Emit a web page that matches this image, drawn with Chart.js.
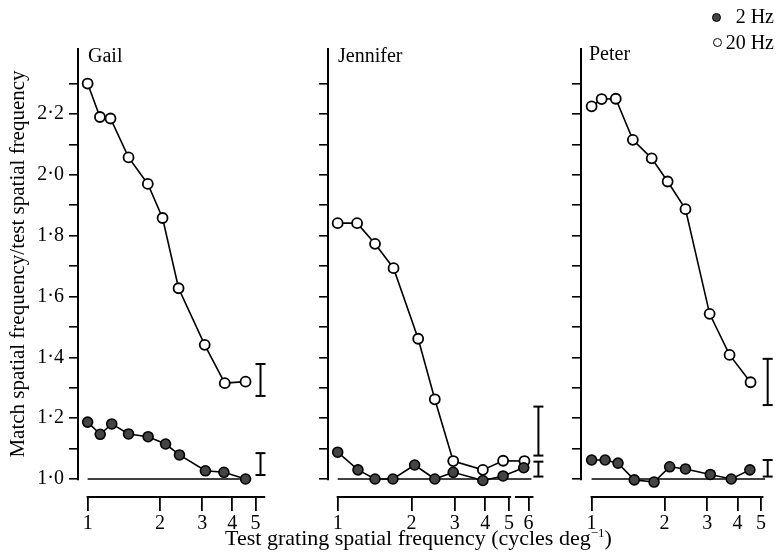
<!DOCTYPE html>
<html>
<head>
<meta charset="utf-8">
<script src="https://cdn.jsdelivr.net/npm/chart.js@4.4.1/dist/chart.umd.min.js"></script>
<style>
html,body{margin:0;padding:0;background:#fff;}
body{width:781px;height:558px;position:relative;overflow:hidden;font-family:"Liberation Serif","Times New Roman",serif;color:#000;}
.panel{position:absolute;top:0;height:537px;}
.lbl{position:absolute;font-size:20px;line-height:20px;white-space:nowrap;}
.dot{position:absolute;width:9px;height:9px;box-sizing:border-box;border:1.6px solid #000;border-radius:50%;}
</style>
</head>
<body>
<div class="panel" style="left:0;width:282px;"><canvas id="gail"></canvas></div>
<div class="panel" style="left:308px;width:244px;"><canvas id="jennifer"></canvas></div>
<div class="panel" style="left:561px;width:220px;"><canvas id="peter"></canvas></div>

<div class="lbl" style="left:88px;top:45px;">Gail</div>
<div class="lbl" style="left:338px;top:45px;">Jennifer</div>
<div class="lbl" style="left:589px;top:43px;">Peter</div>

<div class="dot" style="left:712px;top:13px;background:#444;"></div>
<div class="lbl" style="right:7px;top:6px;">2 Hz</div>
<div class="dot" style="left:712.5px;top:38px;background:#fff;"></div>
<div class="lbl" style="right:7px;top:32px;">20 Hz</div>

<div class="lbl" style="left:-223.5px;top:251.5px;width:480px;height:24px;line-height:24px;font-size:21px;text-align:center;transform:rotate(-90deg);transform-origin:50% 50%;">Match spatial frequency/test spatial frequency</div>
<div class="lbl" style="left:118.5px;top:527.5px;width:600px;text-align:center;font-size:22px;">Test grating spatial frequency (cycles deg<span style="font-size:13px;position:relative;top:-8px;">−1</span>)</div>

<script>
// ---- tick values / labels ----
const xTickValues = [1, 2, 3, 4, 5];
const xTickLabels = ['1', '2', '3', '4', '5'];
const xTickValuesJen = [1, 2, 3, 4, 5, 6];
const xTickLabelsJen = ['1', '2', '3', '4', '5', '6'];
const yTickValues = [1.0, 1.1, 1.2, 1.3, 1.4, 1.5, 1.6, 1.7, 1.8, 1.9, 2.0, 2.1, 2.2, 2.3];
const yTickLabels = ['1·0', '', '1·2', '', '1·4', '', '1·6', '', '1·8', '', '2·0', '', '2·2', ''];
const seriesNames = ['2 Hz', '20 Hz'];

// ---- Gail ----
const gailX2  = [1.0, 1.128, 1.26, 1.48, 1.785, 2.11, 2.41, 3.09, 3.69, 4.54];
const gailY2  = [1.187, 1.147, 1.181, 1.148, 1.139, 1.115, 1.079, 1.027, 1.022, 1.0];
const gailX20 = [1.0, 1.125, 1.245, 1.48, 1.78, 2.05, 2.39, 3.07, 3.72, 4.54];
const gailY20 = [2.30, 2.19, 2.185, 2.057, 1.97, 1.858, 1.627, 1.441, 1.315, 1.32];
const gailErrX = 5.24;
const gailErrHigh = [1.273, 1.378];
const gailErrLow  = [1.013, 1.085];
const gailRefEnd = 4.3;

// ---- Jennifer ----
const jenX2  = [1.0, 1.21, 1.42, 1.68, 2.06, 2.49, 2.96, 3.91, 4.73, 5.74];
const jenY2  = [1.088, 1.030, 1.0, 1.0, 1.046, 1.0, 1.022, 0.995, 1.01, 1.037];
const jenX20 = [1.0, 1.2, 1.42, 1.69, 2.13, 2.49, 2.96, 3.91, 4.73, 5.78];
const jenY20 = [1.841, 1.841, 1.773, 1.693, 1.461, 1.262, 1.059, 1.030, 1.06, 1.059];
const jenErrX = 6.59;
const jenErrHigh = [1.077, 1.238];
const jenErrLow  = [1.008, 1.057];
const jenRefEnd = 6.17;

// ---- Peter ----
const petX2  = [1.0, 1.137, 1.285, 1.5, 1.81, 2.1, 2.44, 3.09, 3.77, 4.5];
const petY2  = [1.0625, 1.0625, 1.052, 0.997, 0.99, 1.04, 1.033, 1.015, 1.0, 1.03];
const petX20 = [1.0, 1.1, 1.258, 1.48, 1.77, 2.06, 2.44, 3.07, 3.71, 4.53];
const petY20 = [2.225, 2.249, 2.25, 2.115, 2.054, 1.978, 1.887, 1.543, 1.408, 1.318];
const petErrX = 5.33;
const petErrHigh = [1.243, 1.395];
const petErrLow  = [1.008, 1.0625];
const petRefEnd = 5.2;

const axisLinesPlugin = {
  id: 'axisLines',
  afterDatasetsDraw(chart, args, opts) {
    const {ctx, chartArea} = chart;
    const x = chart.scales.x, y = chart.scales.y;
    ctx.save();
    ctx.strokeStyle = '#000';
    ctx.lineWidth = 2;
    ctx.beginPath();
    ctx.moveTo(chartArea.left, y.getPixelForValue(opts.yFrom));
    ctx.lineTo(chartArea.left, chartArea.top);
    for (const seg of opts.xSegments) {
      ctx.moveTo(x.getPixelForValue(seg[0]) - 1, chartArea.bottom);
      ctx.lineTo(x.getPixelForValue(seg[1]), chartArea.bottom);
    }
    ctx.stroke();
    ctx.restore();
  }
};

function pts(xs, ys) { return xs.map((v, i) => ({x: v, y: ys[i]})); }

function makePanel(id, cfg) {
  const datasets = [
    {label: seriesNames[0], data: pts(cfg.x2, cfg.y2), showLine: true, borderColor: '#000', borderWidth: 1.6,
     pointRadius: 5, pointBackgroundColor: '#444', pointBorderColor: '#000', pointBorderWidth: 1.6, order: 0, clip: false},
    {label: seriesNames[1], data: pts(cfg.x20, cfg.y20), showLine: true, borderColor: '#000', borderWidth: 1.6,
     pointRadius: 5, pointBackgroundColor: '#fff', pointBorderColor: '#000', pointBorderWidth: 1.8, order: 0, clip: false},
    {label: 'ref', data: [{x: 1, y: 1}, {x: cfg.refEnd, y: 1}], showLine: true, borderColor: '#000', borderWidth: 1.6,
     pointRadius: 0, order: 3, clip: false},
    {label: 'errHigh', data: [{x: cfg.errX, y: cfg.errHigh[0]}, {x: cfg.errX, y: cfg.errHigh[1]}], showLine: true,
     borderColor: '#000', borderWidth: 2, pointStyle: 'line', pointRadius: 5, pointBorderColor: '#000', pointBorderWidth: 2, order: 2, clip: false},
    {label: 'errLow', data: [{x: cfg.errX, y: cfg.errLow[0]}, {x: cfg.errX, y: cfg.errLow[1]}], showLine: true,
     borderColor: '#000', borderWidth: 2, pointStyle: 'line', pointRadius: 5, pointBorderColor: '#000', pointBorderWidth: 2, order: 2, clip: false}
  ];
  new Chart(document.getElementById(id), {
    type: 'scatter',
    data: {datasets},
    plugins: [axisLinesPlugin],
    options: {
      responsive: true, maintainAspectRatio: false, animation: false, events: [],
      layout: {padding: {top: 48, left: 0, right: 0, bottom: 0}},
      plugins: {legend: {display: false}, tooltip: {enabled: false},
        axisLines: {yFrom: 0.996, xSegments: cfg.xSegments}},
      elements: {line: {tension: 0}},
      scales: {
        x: {
          type: 'logarithmic', min: cfg.xMin, max: cfg.xMax,
          afterBuildTicks: s => { s.ticks = cfg.xTicks.map(v => ({value: v})); },
          afterFit: s => { s.height = 40; },
          ticks: {callback: (v, i) => cfg.xLabels[i], color: '#000', padding: 1, maxRotation: 0, autoSkip: false,
            font: {family: 'Liberation Serif', size: 20}},
          grid: {drawOnChartArea: false, drawTicks: true, tickLength: 14, color: '#000', lineWidth: 1.8},
          border: {display: false}
        },
        y: {
          type: 'linear', min: 0.9408, max: 2.4168,
          afterBuildTicks: s => { s.ticks = yTickValues.map(v => ({value: v})); },
          afterFit: s => { s.width = cfg.yWidth; },
          ticks: {callback: (v, i) => cfg.showYLabels ? yTickLabels[i] : '', color: '#000', padding: 5, autoSkip: false,
            font: {family: 'Liberation Serif', size: 20}},
          grid: {drawOnChartArea: false, drawTicks: true, tickLength: 9, color: '#000', lineWidth: 1.6},
          border: {display: false}
        }
      }
    }
  });
}

makePanel('gail', {x2: gailX2, y2: gailY2, x20: gailX20, y20: gailY20, errX: gailErrX, errHigh: gailErrHigh, errLow: gailErrLow,
  refEnd: gailRefEnd, xMin: 0.9118, xMax: 6.02, xTicks: xTickValues, xLabels: xTickLabels, xSegments: [[1, 5.48]],
  yWidth: 78, showYLabels: true});
makePanel('jennifer', {x2: jenX2, y2: jenY2, x20: jenX20, y20: jenY20, errX: jenErrX, errHigh: jenErrHigh, errLow: jenErrLow,
  refEnd: jenRefEnd, xMin: 0.913, xMax: 7.01, xTicks: xTickValuesJen, xLabels: xTickLabelsJen, xSegments: [[1, 5.1], [5.34, 6.29]],
  yWidth: 20, showYLabels: false});
makePanel('peter', {x2: petX2, y2: petY2, x20: petX20, y20: petY20, errX: petErrX, errHigh: petErrHigh, errLow: petErrLow,
  refEnd: petRefEnd, xMin: 0.904, xMax: 5.66, xTicks: xTickValues, xLabels: xTickLabels, xSegments: [[1, 5.12]],
  yWidth: 20, showYLabels: false});
</script>
</body>
</html>
